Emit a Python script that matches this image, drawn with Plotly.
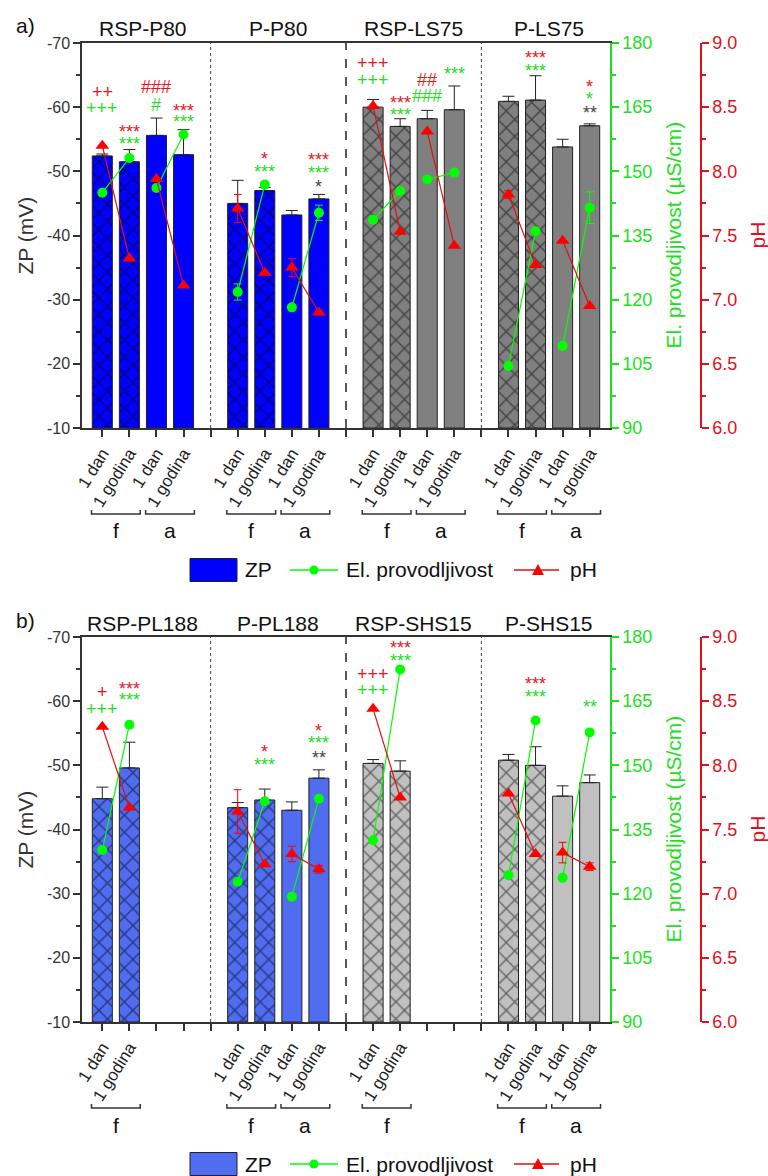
import plotly.graph_objects as go

W, H = 768, 1176
FONT = "Liberation Sans, Arial, sans-serif"

# ---------------- data ----------------
time_labels = ["1 dan", "1 godina"]
treat_labels = ["f", "a"]

# panel a
groups_a = ["RSP-P80", "P-P80", "RSP-LS75", "P-LS75"]
pos_a = [1, 2, 3, 4, 6, 7, 8, 9, 11, 12, 13, 14, 16, 17, 18, 19]
zp_a = [-52.4, -51.5, -55.6, -52.6, -45.0, -47.0, -43.2, -45.7,
        -60.0, -57.0, -58.2, -59.6, -60.9, -61.1, -53.8, -57.1]
zp_a_err = [0.3, 1.9, 2.7, 3.9, 3.6, 0.5, 0.7, 0.7,
            1.2, 1.2, 1.3, 3.7, 0.8, 3.8, 1.2, 0.3]
ec_a = [145.0, 153.1, 146.1, 158.6, 121.8, 146.9, 118.2, 140.3,
        138.7, 145.4, 148.1, 149.7, 104.5, 136.0, 109.2, 141.5]
ec_a_err = [0, 0, 0, 0, 1.9, 0, 0, 1.8, 0, 0, 0, 0, 0, 0, 0, 3.7]
ph_a = [8.20, 7.32, 7.94, 7.11, 7.71, 7.21, 7.25, 6.90,
        8.51, 7.53, 8.31, 7.42, 7.82, 7.27, 7.46, 6.95]
ph_a_err = [0, 0, 0, 0, 0.11, 0, 0.07, 0, 0, 0, 0, 0, 0.03, 0, 0, 0]
bar_colors_a = ["#0000FF", "#0000FF", "#808080", "#808080"]
sig_a_pos = [1, 1, 2, 2, 3, 3, 4, 4, 7, 7, 9, 9, 9,
             11, 11, 12, 12, 13, 13, 14, 17, 17, 19, 19, 19]
sig_a_text = ["++", "+++", "***", "***", "###", "#", "***", "***", "*", "***", "***", "***", "*",
              "+++", "+++", "***", "***", "##", "###", "***", "***", "***", "*", "*", "**"]
sig_a_col = ["r", "g", "r", "g", "r", "g", "r", "g", "r", "g", "r", "g", "k",
             "r", "g", "r", "g", "r", "g", "g", "r", "g", "r", "g", "k"]
sig_a_y = [-62.4, -59.8, -56.9, -55.1, -63.1, -60.4, -60.2, -58.4, -52.7, -50.7, -52.5, -50.5, -48.3,
           -66.9, -64.3, -61.4, -59.5, -64.3, -61.7, -65.9, -68.4, -66.4, -64.0, -62.0, -59.8]

# panel b
groups_b = ["RSP-PL188", "P-PL188", "RSP-SHS15", "P-SHS15"]
pos_b = [1, 2, 6, 7, 8, 9, 11, 12, 16, 17, 18, 19]
zp_b = [-44.8, -49.6, -43.4, -44.6, -43.0, -48.0, -50.3, -49.1, -50.8, -50.0, -45.2, -47.3]
zp_b_err = [1.8, 4.0, 0.8, 1.7, 1.3, 1.3, 0.6, 1.6, 0.9, 2.9, 1.6, 1.2]
ec_b = [130.2, 159.5, 122.8, 141.6, 119.3, 142.2, 132.5, 172.4, 124.3, 160.5, 123.7, 157.7]
ec_b_err = [0, 0, 0, 0, 0, 0, 0, 0, 0, 0, 0, 0]
ph_b = [8.30, 7.67, 7.64, 7.23, 7.31, 7.19, 8.44, 7.75, 7.78, 7.31, 7.32, 7.21]
ph_b_err = [0, 0, 0.17, 0, 0.06, 0.03, 0, 0, 0, 0, 0.08, 0.03]
bar_colors_b = ["#506CF0", "#506CF0", "#C0C0C0", "#C0C0C0"]
sig_b_pos = [1, 1, 2, 2, 7, 7, 9, 9, 9, 11, 11, 12, 12, 17, 17, 19]
sig_b_text = ["+", "+++", "***", "***", "*", "***", "*", "***", "**",
              "+++", "+++", "***", "***", "***", "***", "**"]
sig_b_col = ["r", "g", "r", "g", "r", "g", "r", "g", "k", "r", "g", "r", "g", "r", "g", "g"]
sig_b_y = [-61.5, -58.8, -62.7, -60.9, -52.8, -50.8, -56.2, -54.3, -52.0,
           -64.3, -61.7, -69.1, -67.0, -63.5, -61.5, -59.9]

zp_ticks = [-70, -60, -50, -40, -30, -20, -10]
ec_ticks = [90, 105, 120, 135, 150, 165, 180]
ph_ticks = [6.0, 6.5, 7.0, 7.5, 8.0, 8.5, 9.0]

# ---------------- styling / layout constants ----------------
GREEN = "#00FF00"
GREEN_T = "#1EE01E"
RED = "#FF0000"
RED_T = "#E0101E"
AX = "#333333"
X_L, X_R, RED_X = 82, 610, 701
ZP_BASE = -10
NPOS = 19

fig = go.Figure()
layout = dict(width=W, height=H, margin=dict(l=0, r=0, t=0, b=0),
              paper_bgcolor="white", plot_bgcolor="white", template="none",
              font=dict(family=FONT, color="#222"), showlegend=False, barmode="overlay",
              shapes=[], annotations=[])


def px(x):
    return x / W


def py(y):
    return 1 - y / H


def note(text, x, y, xref="paper", yref="paper", size=21, color="#111", xanchor="center", **kw):
    d = dict(text=text, x=x, y=y, xref=xref, yref=yref, showarrow=False,
             xanchor=xanchor, yanchor="middle", font=dict(size=size, color=color))
    d.update(kw)
    layout["annotations"].append(d)


def pairs(pos, vals, errs):
    xs, ys, es = [], [], []
    for i in range(0, len(pos), 2):
        xs += [pos[i], pos[i + 1], None]
        ys += [vals[i], vals[i + 1], None]
        es += [errs[i], errs[i + 1], 0]
    return xs, ys, es


def panel(idx, top, bottom, label, groups, pos, zp, zp_err, ec, ec_err, ph, ph_err,
          bar_colors, s_pos, s_text, s_col, s_y):
    xk = "x" if idx == 0 else "x2"
    yk = ["y", "y2", "y3"] if idx == 0 else ["y4", "y5", "y6"]
    xname = "xaxis" if idx == 0 else "xaxis2"
    ynames = ["yaxis" + k[1:] for k in yk]

    # one bar trace per bar so that colour and hatch stay scalar
    for p, v, e in zip(pos, zp, zp_err):
        col = bar_colors[(p - 1) // 5]
        hatch = "x" if (p - 1) % 5 < 2 else ""
        fig.add_trace(go.Bar(
            x=[p], y=[v - ZP_BASE], base=ZP_BASE, width=0.74,
            marker=dict(color=col, line=dict(color="#222", width=1),
                        pattern=dict(shape=hatch, fgcolor="#000000", size=12, solidity=0.2,
                                     fillmode="overlay")),
            error_y=dict(type="data", symmetric=False, array=[0], arrayminus=[e],
                         color="#222", thickness=1, width=6),
            xaxis=xk, yaxis=yk[0]))

    xs, ys, es = pairs(pos, ec, ec_err)
    fig.add_trace(go.Scatter(x=xs, y=ys, mode="lines+markers", xaxis=xk, yaxis=yk[1],
                             line=dict(color=GREEN, width=1.2),
                             marker=dict(symbol="circle", size=10, color=GREEN),
                             error_y=dict(type="data", array=es, color=GREEN, thickness=1, width=4)))
    xs, ys, es = pairs(pos, ph, ph_err)
    fig.add_trace(go.Scatter(x=xs, y=ys, mode="lines+markers", xaxis=xk, yaxis=yk[2],
                             line=dict(color="#E01010", width=1.2),
                             marker=dict(symbol="triangle-up", size=12, color=RED),
                             error_y=dict(type="data", array=es, color=RED, thickness=1, width=4)))

    dom = [py(bottom), py(top)]
    ticktext = []
    for p in range(1, NPOS + 1):
        off = (p - 1) % 5
        ticktext.append(time_labels[off % 2] if (p in pos and off < 4) else "")
    layout[xname] = dict(domain=[px(X_L), px(X_R)], anchor=yk[0], range=[0.25, 19.75],
                         tickmode="array", tickvals=list(range(1, NPOS + 1)), ticktext=ticktext,
                         tickangle=-58, ticks="outside", ticklen=7, tickwidth=1.5, tickcolor=AX,
                         showline=True, linecolor=AX, linewidth=1.5, mirror=True,
                         showgrid=False, zeroline=False, automargin=False,
                         tickfont=dict(size=17, color="#222"))
    layout[ynames[0]] = dict(domain=dom, anchor=xk, range=[-10, -70], tickmode="array",
                             tickvals=zp_ticks, ticktext=[str(t) for t in zp_ticks],
                             ticks="outside", ticklen=7, tickwidth=1.5, tickcolor=AX,
                             minor=dict(tickmode="array", tickvals=[t - 5 for t in zp_ticks[1:]],
                                        ticks="outside", ticklen=4, tickcolor=AX, tickwidth=1.5),
                             showline=True, linecolor=AX, linewidth=1.5, showgrid=False,
                             zeroline=False, automargin=False,
                             tickfont=dict(size=16, color="#333"))
    layout[ynames[1]] = dict(overlaying=yk[0], side="right", anchor=xk, range=[90, 180],
                             tickmode="array", tickvals=ec_ticks, ticktext=[str(t) for t in ec_ticks],
                             ticks="outside", ticklen=7, tickwidth=1.5, tickcolor=GREEN_T,
                             minor=dict(tickmode="array", tickvals=[t + 7.5 for t in ec_ticks[:-1]],
                                        ticks="outside", ticklen=4, tickcolor=GREEN_T, tickwidth=1.5),
                             showline=True, linecolor=GREEN_T, linewidth=1.5, showgrid=False,
                             zeroline=False, automargin=False,
                             tickfont=dict(size=18, color=GREEN_T))
    layout[ynames[2]] = dict(overlaying=yk[0], side="right", anchor="free", position=px(RED_X),
                             range=[6, 9], tickmode="array", tickvals=ph_ticks,
                             ticktext=["%.1f" % t for t in ph_ticks],
                             ticks="outside", ticklen=7, tickwidth=1.5, tickcolor=RED_T,
                             minor=dict(tickmode="array", tickvals=[t + 0.25 for t in ph_ticks[:-1]],
                                        ticks="outside", ticklen=4, tickcolor=RED_T, tickwidth=1.5),
                             showline=True, linecolor=RED_T, linewidth=1.5, showgrid=False,
                             zeroline=False, automargin=False,
                             tickfont=dict(size=18, color=RED_T))

    # separators between groups
    for k, s in enumerate([5, 10, 15]):
        layout["shapes"].append(dict(type="line", xref=xk, yref=yk[0] + " domain", x0=s, x1=s,
                                     y0=0, y1=1,
                                     line=dict(color="#444" if k != 1 else "#222",
                                               width=1 if k != 1 else 1.5,
                                               dash="dot" if k != 1 else "dash")))
    # group titles
    for g, name in enumerate(groups):
        note(name, g * 5 + 2.5, py(top - 14), xref=xk)
    # panel label
    note(label, px(25), py(top - 17))
    # brackets f / a
    for i in range(0, len(pos), 2):
        p1, p2 = pos[i], pos[i + 1]
        kind = treat_labels[0] if (p1 - 1) % 5 < 2 else treat_labels[1]
        yb = py(bottom + 86)
        ye = py(bottom + 82)
        layout["shapes"].append(dict(type="path", xref=xk, yref="paper",
                                     path=f"M {p1 - 0.4},{ye} L {p1 - 0.4},{yb} L {p2 + 0.4},{yb} L {p2 + 0.4},{ye}",
                                     line=dict(color="#333", width=1.5)))
        note(kind, (p1 + p2) / 2, py(bottom + 103), xref=xk)
    # significance labels
    cmap = {"r": "#E8141E", "g": "#22DD22", "k": "#444444"}
    for p, t, c, yv in zip(s_pos, s_text, s_col, s_y):
        note(t, p, yv, xref=xk, yref=yk[0], size=18, color=cmap[c],
             yshift=-5 if "*" in t else 0)
    # axis titles
    mid = (top + bottom) / 2
    note("ZP (mV)", px(25), py(mid), color="#333", textangle=-90)
    note("El. provodljivost (µS/cm)", px(673), py(mid), color=GREEN_T, textangle=-90)
    note("pH", px(757), py(mid), color=RED_T, textangle=-90)
    # legend
    ly = bottom + 142
    layout["shapes"].append(dict(type="rect", xref="paper", yref="paper", x0=px(190), x1=px(237),
                                 y0=py(ly + 11.5), y1=py(ly - 11.5), fillcolor=bar_colors[0],
                                 line=dict(color="#222", width=1)))
    note("ZP", px(243), py(ly), xanchor="left")
    layout["shapes"].append(dict(type="line", xref="paper", yref="paper", x0=px(290), x1=px(338),
                                 y0=py(ly), y1=py(ly), line=dict(color=GREEN, width=1.5)))
    layout["shapes"].append(dict(type="circle", xref="paper", yref="paper", x0=px(309.5), x1=px(318.5),
                                 y0=py(ly + 4.5), y1=py(ly - 4.5), fillcolor=GREEN,
                                 line=dict(color=GREEN, width=0)))
    note("El. provodljivost", px(344), py(ly), xanchor="left")
    layout["shapes"].append(dict(type="line", xref="paper", yref="paper", x0=px(514), x1=px(559),
                                 y0=py(ly), y1=py(ly), line=dict(color="#E01010", width=1.5)))
    layout["shapes"].append(dict(type="path", xref="paper", yref="paper",
                                 path=f"M {px(532)},{py(ly + 5)} L {px(544)},{py(ly + 5)} L {px(538)},{py(ly - 6)} Z",
                                 fillcolor=RED, line=dict(color=RED, width=0)))
    note("pH", px(568), py(ly), xanchor="left")


panel(0, 43, 428, "a)", groups_a, pos_a, zp_a, zp_a_err, ec_a, ec_a_err, ph_a, ph_a_err,
      bar_colors_a, sig_a_pos, sig_a_text, sig_a_col, sig_a_y)
panel(1, 637, 1022, "b)", groups_b, pos_b, zp_b, zp_b_err, ec_b, ec_b_err, ph_b, ph_b_err,
      bar_colors_b, sig_b_pos, sig_b_text, sig_b_col, sig_b_y)

fig.update_layout(**layout)
fig.write_html("out.html")
